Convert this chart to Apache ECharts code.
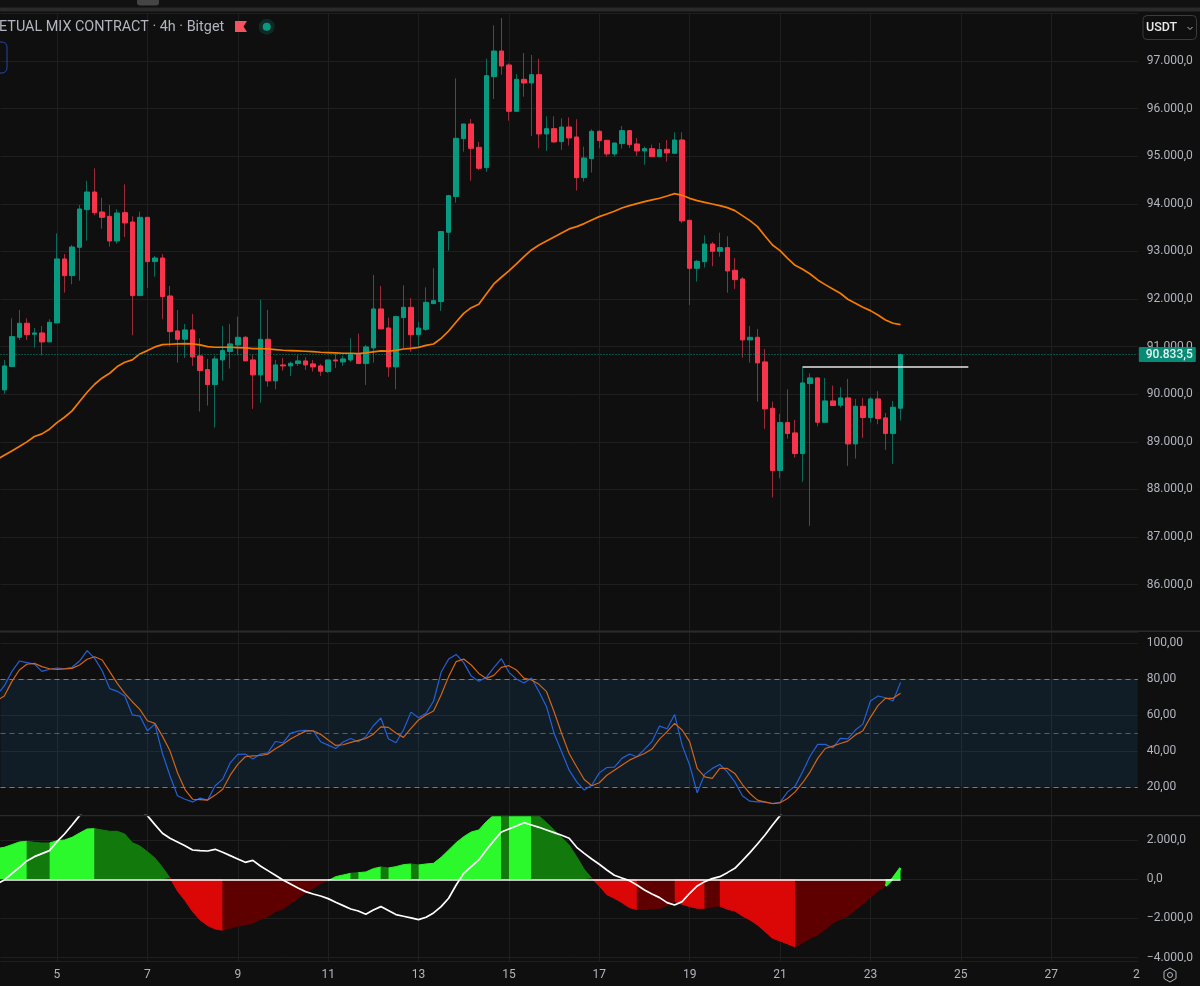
<!DOCTYPE html>
<html>
<head>
<meta charset="utf-8">
<title>Perpetual mix contract 4h</title>
<script src="https://cdn.jsdelivr.net/npm/echarts@6/dist/echarts.min.js"></script>
<style>
  html, body { margin: 0; padding: 0; background: #0f0f0f; }
  #chart { width: 1200px; height: 986px; }
</style>
</head>
<body>
<div id="chart"></div>
<script>
// candles, first one is the bar at x=4 (3 days of 4h bars before day 5)
const opens = [90090,90580,91196,91490,91259,91287,91098,91497,92841,92491,93086,93877,94248,93828,93737,93219,93814,93618,92071,93716,92785,92862,92064,91329,91154,91350,90804,90517,90202,90720,90895,91035,91196,90720,90405,91154,90279,90615,90594,90643,90699,90636,90594,90475,90720,90678,90720,90846,90643,90972,91791,91392,90573,91608,91825,91251,91363,91902,91946,93402,94151,95369,95677,95187,94760,96671,97210,96916,95943,96615,96538,96713,95467,95579,95306,95614,95404,94550,94949,95523,95334,95047,95264,95537,95257,95110,95159,94991,95145,95061,95341,93654,92645,92785,93156,93002,93079,92603,92421,91140,91196,90678,89705,88396,89404,89187,88753,90223,90342,89411,89859,89768,89922,88956,89747,89509,89901,89502,89173,89705]
const closes = [90594,91210,91490,91252,91287,91098,91511,92841,92491,93093,93891,94248,93814,93716,93219,93807,93597,92071,93716,92785,92862,92050,91315,91154,91350,90783,90496,90202,90741,90916,91056,91196,90699,90405,91154,90279,90615,90594,90650,90699,90615,90573,90482,90720,90699,90741,90846,90643,90993,91791,91371,90573,91630,91825,91251,91391,91930,91965,93416,94172,95376,95677,95166,94746,96692,97210,96895,95943,96615,96538,96713,95467,95579,95299,95614,95383,94550,94963,95523,95327,95047,95278,95537,95243,95110,95159,94991,95138,95068,95341,93640,92645,92792,93156,93002,93079,92589,92407,91140,91196,90657,89691,88396,89404,89173,88753,90237,90342,89411,89859,89761,89922,88956,89747,89509,89901,89488,89173,89726,90833.5]
const lows = [90006,90580,91140,91140,90979,90818,91098,91490,92134,92309,92386,93226,93758,93478,93100,93163,93303,91238,92071,92232,92470,91574,91000,90664,90762,90594,89635,89761,89299,90286,90538,90818,90699,89691,89824,90160,90104,90496,90384,90594,90510,90475,90384,90447,90552,90594,90678,90643,90195,90664,91371,90363,90104,90964,90894,90999,91328,91902,91748,93017,94025,95096,94487,94711,94669,96202,96713,95747,95943,96251,95425,95166,95110,95285,95131,95222,94277,94466,94655,95166,94991,94991,95159,95173,95005,94823,94991,94991,94886,95047,93591,91875,92365,92659,92687,92890,92134,92211,90769,90664,89845,89271,87829,88235,89068,88669,88158,87234,89327,89411,89761,89719,88494,88648,89082,89404,89369,88830,88536,89446]
const highs = [90720,91595,91770,91595,91392,91434,91574,93380,92946,93135,93975,94486,94745,94129,93975,93884,94409,93737,93835,93716,92904,92946,92274,91770,91476,91686,91175,90741,90804,91434,91476,91630,91224,90825,91987,91770,90720,90762,90685,90818,90776,90720,90636,90720,90846,90804,91175,91273,91035,92505,92274,91609,91651,92287,92021,91524,92245,92646,93430,94186,96636,95677,95782,95299,97049,97749,97903,96951,96727,97168,97126,97049,95838,95838,95796,95817,95775,95201,95565,95544,95334,95278,95635,95551,95383,95201,95243,95278,95341,95502,95502,93654,92820,93338,93198,93394,93317,92862,92463,91434,91371,90951,89845,89586,90104,89460,90580,90440,90356,90342,90181,90146,90321,89901,89922,89943,90062,89607,89859,90853]

// the rest start one bar earlier, off the left edge
const maValues = [88620,88718,88809,88900,88998,89110,89166,89264,89404,89516,89649,89845,90041,90209,90342,90440,90580,90671,90720,90846,90916,90993,91042,91049,91056,91063,91056,91035,91000,90986,90986,90986,90979,90972,90958,90958,90951,90937,90923,90916,90909,90902,90895,90881,90874,90867,90860,90860,90853,90867,90888,90909,90905,90922,90950,90964,90985,91027,91055,91174,91328,91517,91699,91818,91890,92107,92317,92457,92590,92737,92891,93031,93136,93220,93304,93388,93472,93521,93584,93661,93731,93787,93843,93913,93962,94004,94046,94081,94116,94164,94213,94178,94115,94066,94031,93996,93961,93919,93856,93751,93646,93520,93324,93135,93016,92855,92708,92624,92526,92400,92302,92211,92120,91994,91910,91826,91756,91665,91560,91490,91462]

const rsiBlue = [71.2,76.3,84.3,90.2,89.3,88.5,84.4,85.6,86.3,85.9,86.7,90.2,96.0,91.7,84.8,74.8,73.3,70.7,60.2,59.5,51.3,55.0,38.6,26.2,15.0,13.1,11.6,13.7,12.6,20.6,24.3,33.4,38.1,38.3,35.5,38.3,39.0,45.3,44.6,49.8,51.1,51.5,51.3,45.2,43.3,41.4,45.0,47.0,45.2,48.0,54.1,58.4,46.8,44.6,51.7,61.7,58.6,61.0,67.9,83.9,91.3,93.9,89.3,81.8,78.9,81.1,86.5,91.5,83.9,80.2,77.9,80.7,73.1,64.7,49.8,39.6,29.3,22.8,18.2,20.9,27.8,30.8,31.0,35.9,38.3,36.8,40.9,45.3,53.9,52.4,60.4,43.3,32.1,16.7,27.1,30.3,32.5,28.4,22.8,15.0,12.0,11.6,11.6,10.7,11.3,17.2,20.4,28.4,37.2,43.7,43.7,41.8,47.0,46.8,51.7,55.0,67.9,70.7,69.7,67.9,78.3]
const rsiOrange = [68.1,70.7,78.7,85.2,88.4,88.9,87.1,85.9,85.6,85.8,86.1,88.0,91.2,92.6,90.8,84.3,77.7,72.2,67.5,63.2,56.9,55.4,48.3,40.1,27.9,18.5,13.1,12.9,12.6,15.4,18.7,26.5,32.5,36.8,37.3,37.5,38.3,41.3,43.7,46.7,48.9,51.1,51.3,49.3,46.1,43.1,43.5,44.8,45.9,47.0,49.4,53.5,53.2,50.0,47.6,52.6,57.3,60.1,62.3,71.2,81.5,89.9,91.3,88.0,83.3,80.5,82.2,86.7,87.6,85.2,80.7,79.6,77.2,73.1,61.9,49.8,38.6,31.2,24.1,20.6,22.3,26.5,29.3,32.1,34.9,36.8,38.6,41.1,46.6,50.8,55.4,51.7,45.2,30.3,25.6,24.7,30.3,30.3,27.5,21.3,16.3,12.6,11.5,10.7,11.1,13.5,17.2,22.3,28.4,35.9,41.4,42.7,44.2,45.5,48.9,51.3,58.8,65.3,69.4,69.4,72.2]

const histValues = [1564,1632,1768,1904,1938,1887,1853,1853,1972,2006,2142,2363,2567,2584,2516,2448,2448,2312,1870,1700,1411,1088,612,68,-595,-1088,-1649,-2074,-2363,-2533,-2601,-2499,-2380,-2329,-2244,-2040,-1904,-1649,-1513,-1241,-969,-680,-459,-221,-68,136,221,306,340,374,544,629,578,646,748,782,731,782,816,1122,1496,1870,2176,2414,2516,2941,3281,3451,3621,3706,3672,3502,3230,2890,2516,2142,1751,1156,510,51,-340,-782,-969,-1190,-1445,-1547,-1547,-1513,-1496,-1343,-1122,-1275,-1394,-1479,-1479,-1428,-1360,-1530,-1615,-1870,-2074,-2329,-2669,-3009,-3145,-3298,-3451,-3247,-3009,-2839,-2550,-2244,-2023,-1870,-1564,-1258,-918,-612,-340,51,578]
const signalValues = [-238,-34,289,612,935,1156,1309,1462,1921,2312,2771,3247,3672,4012,4216,4301,4216,4012,3740,3502,3247,2788,2346,2091,1904,1717,1496,1462,1445,1530,1377,1207,1037,867,969,680,442,204,-34,-238,-442,-629,-748,-850,-986,-1173,-1343,-1513,-1615,-1785,-1564,-1394,-1598,-1802,-1887,-1972,-2057,-1938,-1717,-1394,-969,-289,306,646,986,1496,1972,2414,2567,2720,2890,2771,2652,2516,2380,2244,2091,1632,1326,1037,765,476,204,68,-68,-289,-544,-748,-935,-1190,-1309,-1139,-714,-340,-119,34,136,340,561,952,1360,1802,2261,2771,3247,3740]

// histogram colour runs: [colour key, first bar, last bar], bar 0 = day 5 00:00
const histColors = { up: '#2cf92b', upFade: '#127a0d', down: '#db0606', downFade: '#5f0000' }
const histRuns = [['up',-8,-4],['upFade',-4,-1],['up',-1,5],['upFade',5,15],['down',15,22],['downFade',22,36],['up',36,39],['upFade',39,40],['up',40,43],['upFade',43,44],['up',44,47],['upFade',47,48],['up',48,59],['upFade',59,60],['up',60,63],['upFade',63,71],['down',71,77],['downFade',77,82],['down',82,86],['downFade',86,88],['down',88,98],['downFade',98,110],['up',110,112]]

const lastPrice = 90833.5
const levelPrice = 90573
const levelFromBar = 99
const levelToBar = 121
const lastBar = 112

const firstDay = 3, firstHour = 16, barCount = 152, barOffset = 8
const categories = []
for (let i = 0; i < barCount; i++) {
    const h = firstHour + i * 4
    categories.push((firstDay + Math.floor(h / 24)) + ' ' + String(h % 24).padStart(2, '0') + ':00')
}

const FONT = 'Roboto, "Liberation Sans", sans-serif'
const TXT = '#b2b5be'
const GRID = '#1f1f1f'
const GREEN = '#089981'
const RED = '#f7344b'

const isDayTick = (idx, name) => {
    const p = name.split(' ')
    return p[1] === '00:00' && parseInt(p[0]) % 2 === 1
}
const euro = (v, dec) => {
    const s = Math.abs(v).toFixed(dec).split('.')
    s[0] = s[0].replace(/\B(?=(\d{3})+$)/g, '.')
    return (v < 0 ? '\u2212' : '') + s[0] + ',' + s[1]
}

const wickData = ['-'].concat(opens.map((o, i) => [o, closes[i], lows[i], highs[i]]))
const bodyData = ['-'].concat(opens.map((o, i) => [o, closes[i], Math.min(o, closes[i]), Math.max(o, closes[i])]))

// first category sits left of the window, so lines run in from the edge
const chartLeft = 0.5, chartWidth = 1137.3
const grids = [
    { left: chartLeft, width: chartWidth, top: 13.4, height: 618.8 },
    { left: chartLeft, width: chartWidth, top: 632, height: 183 },
    { left: chartLeft, width: chartWidth, top: 815.5, height: 146 }
]

const xAxes = grids.map((g, i) => ({
    type: 'category',
    gridIndex: i,
    data: categories,
    min: 1,
    axisLine: { show: false },
    axisTick: { show: false },
    axisLabel: {
        show: i === 2,
        interval: isDayTick,
        formatter: v => v.split(' ')[0],
        color: TXT,
        fontFamily: FONT,
        fontSize: 12,
        margin: 7
    },
    splitLine: { show: true, interval: isDayTick, alignWithLabel: true, lineStyle: { color: GRID, width: 1 } }
}))

const yBase = {
    type: 'value',
    position: 'right',
    axisLine: { show: false },
    axisTick: { show: false },
    splitLine: { show: true, lineStyle: { color: GRID, width: 1 } },
    scale: true
}
const yLabel = (dec) => ({
    color: TXT, fontFamily: FONT, fontSize: 12, margin: 9,
    showMinLabel: false, showMaxLabel: false,
    formatter: v => euro(v, dec)
})
const yAxes = [
    { ...yBase, gridIndex: 0, min: 85000, max: 98000, interval: 1000, axisLabel: yLabel(1) },
    { ...yBase, gridIndex: 1, min: 4.3, max: 106.4, splitNumber: 5, axisLabel: yLabel(2) },
    { ...yBase, gridIndex: 2, min: -4194, max: 3255, splitNumber: 4, axisLabel: yLabel(1) }
]

const histSeries = histRuns.map((r, n) => ({
    type: 'line',
    xAxisIndex: 2,
    yAxisIndex: 2,
    symbol: 'none',
    z: 2,
    data: histValues.map((v, i) => (i - barOffset >= r[1] && i - barOffset <= r[2] ? v : null)),
    lineStyle: { color: histColors[r[0]], width: n === histRuns.length - 1 ? 2.4 : 1 },
    areaStyle: { color: histColors[r[0]], opacity: 1 }
}))

const option = {
    backgroundColor: '#0f0f0f',
    animation: false,
    grid: grids,
    xAxis: xAxes,
    yAxis: yAxes,
    series: [
        {
            name: 'wicks',
            type: 'candlestick',
            xAxisIndex: 0,
            yAxisIndex: 0,
            barWidth: 1,
            data: wickData,
            itemStyle: { color: '#0b6b5b', color0: '#9c2b38', borderColor: '#0b6b5b', borderColor0: '#9c2b38', borderWidth: 1 }
        },
        {
            name: 'bodies',
            type: 'candlestick',
            xAxisIndex: 0,
            yAxisIndex: 0,
            barWidth: 5,
            data: bodyData,
            itemStyle: { color: GREEN, color0: RED, borderColor: GREEN, borderColor0: RED, borderWidth: 1 },
            markLine: {
                silent: true,
                symbol: 'none',
                z: 20,
                data: [{
                    yAxis: lastPrice,
                    lineStyle: { color: GREEN, type: [1, 2], width: 1, opacity: 0.9 },
                    label: {
                        show: true,
                        position: 'end',
                        distance: 1,
                        formatter: () => euro(lastPrice, 1),
                        color: '#fff',
                        fontFamily: FONT,
                        fontSize: 12,
                        fontWeight: 500,
                        backgroundColor: GREEN,
                        borderRadius: 1,
                        padding: [2, 3, 1, 7],
                        width: 47
                    }
                }, [
                    { coord: [categories[levelFromBar + barOffset], levelPrice], lineStyle: { color: '#e6e6e6', type: 'solid', width: 1.5 }, label: { show: false } },
                    { coord: [categories[levelToBar + barOffset], levelPrice] }
                ]]
            }
        },
        {
            name: 'MA',
            type: 'line',
            xAxisIndex: 0,
            yAxisIndex: 0,
            symbol: 'none',
            z: 5,
            data: maValues,
            lineStyle: { color: '#f57c00', width: 1.7 }
        },
        {
            name: 'rsi K',
            type: 'line',
            xAxisIndex: 1,
            yAxisIndex: 1,
            symbol: 'none',
            z: 5,
            data: rsiBlue,
            lineStyle: { color: '#2460d8', width: 1.2 },
            markArea: {
                silent: true,
                z: 1,
                itemStyle: { color: 'rgba(33,150,243,0.1)' },
                data: [[{ yAxis: 80 }, { yAxis: 20 }]]
            },
            markLine: {
                silent: true,
                symbol: 'none',
                z: 3,
                label: { show: false },
                data: [
                    { yAxis: 80, lineStyle: { color: '#787b86', type: [5, 4], width: 1 } },
                    { yAxis: 50, lineStyle: { color: '#5a5d66', type: [5, 4], width: 1 } },
                    { yAxis: 20, lineStyle: { color: '#787b86', type: [5, 4], width: 1 } }
                ]
            }
        },
        {
            name: 'rsi D',
            type: 'line',
            xAxisIndex: 1,
            yAxisIndex: 1,
            symbol: 'none',
            z: 6,
            data: rsiOrange,
            lineStyle: { color: '#d2651a', width: 1.2 }
        },
        ...histSeries,
        {
            name: 'signal',
            type: 'line',
            xAxisIndex: 2,
            yAxisIndex: 2,
            symbol: 'none',
            z: 6,
            data: signalValues,
            lineStyle: { color: '#ffffff', width: 1.7 },
            markLine: {
                silent: true,
                symbol: 'none',
                z: 5,
                label: { show: false },
                data: [[
                    { coord: [categories[1], 0], lineStyle: { color: '#ffffff', type: 'solid', width: 1.5 } },
                    { coord: [categories[lastBar + barOffset], 0] }
                ]]
            }
        }
    ],
    graphic: [
        // top strip and pane separators
        { type: 'rect', z: 100, shape: { x: 0, y: 0, width: 1200, height: 7.5 }, style: { fill: '#111111' } },
        { type: 'rect', z: 100, shape: { x: 0, y: 7.5, width: 1200, height: 4 }, style: { fill: '#2a2a2a' } },
        { type: 'rect', z: 101, shape: { x: 137, y: -4, width: 22, height: 9.5, r: 3 }, style: { fill: '#454545' } },
        { type: 'rect', z: 10, shape: { x: 0, y: 630.5, width: 1200, height: 1.5 }, style: { fill: '#2a2a2e' } },
        { type: 'rect', z: 10, shape: { x: 0, y: 815, width: 1200, height: 1.2 }, style: { fill: '#2a2a2e' } },
        // legend row
        { type: 'text', z: 100, style: { x: -1, y: 27, text: 'ETUAL MIX CONTRACT \u00b7 4h \u00b7 Bitget', fill: TXT, font: '14.4px ' + FONT, textVerticalAlign: 'middle' } },
        { type: 'polygon', z: 100, shape: { points: [[235, 21], [247, 21], [243.5, 26.5], [247, 32], [235, 32]] }, style: { fill: '#f7525f' } },
        { type: 'circle', z: 100, shape: { cx: 266.7, cy: 26.7, r: 8 }, style: { fill: '#0f2a26' } },
        { type: 'circle', z: 101, shape: { cx: 266.7, cy: 26.7, r: 4 }, style: { fill: GREEN } },
        { type: 'rect', z: 100, shape: { x: -20, y: 42, width: 27, height: 31, r: 5 }, style: { fill: 'none', stroke: '#2447a8', lineWidth: 1 } },
        // currency button
        { type: 'rect', z: 100, shape: { x: 1143, y: 15.5, width: 53.5, height: 24, r: 4 }, style: { fill: '#0f0f0f', stroke: '#3b3b3f', lineWidth: 1 } },
        { type: 'text', z: 101, style: { x: 1146, y: 27.5, text: 'USDT', fill: '#e8e8ea', font: '500 12.5px ' + FONT, textVerticalAlign: 'middle' } },
        { type: 'polyline', z: 101, shape: { points: [[1187.5, 27], [1190, 29.5], [1192.5, 27]] }, style: { fill: 'none', stroke: TXT, lineWidth: 1 } },
        // clip the bottom price label and hold the time axis corner
        { type: 'rect', z: 100, shape: { x: 1139, y: 962, width: 61, height: 24 }, style: { fill: '#0f0f0f' } },
        { type: 'text', z: 101, style: { x: 1133, y: 975, text: '2', fill: TXT, font: '12px ' + FONT, textVerticalAlign: 'middle' } },
        { type: 'polygon', z: 101, shape: { points: [[1170, 968], [1176, 971.5], [1176, 978.5], [1170, 982], [1164, 978.5], [1164, 971.5]] }, style: { fill: 'none', stroke: TXT, lineWidth: 1 } },
        { type: 'circle', z: 101, shape: { cx: 1170, cy: 975, r: 2.5 }, style: { fill: 'none', stroke: TXT, lineWidth: 1 } }
    ]
}

const chart = echarts.init(document.getElementById('chart'))
chart.setOption(option)
</script>
</body>
</html>
